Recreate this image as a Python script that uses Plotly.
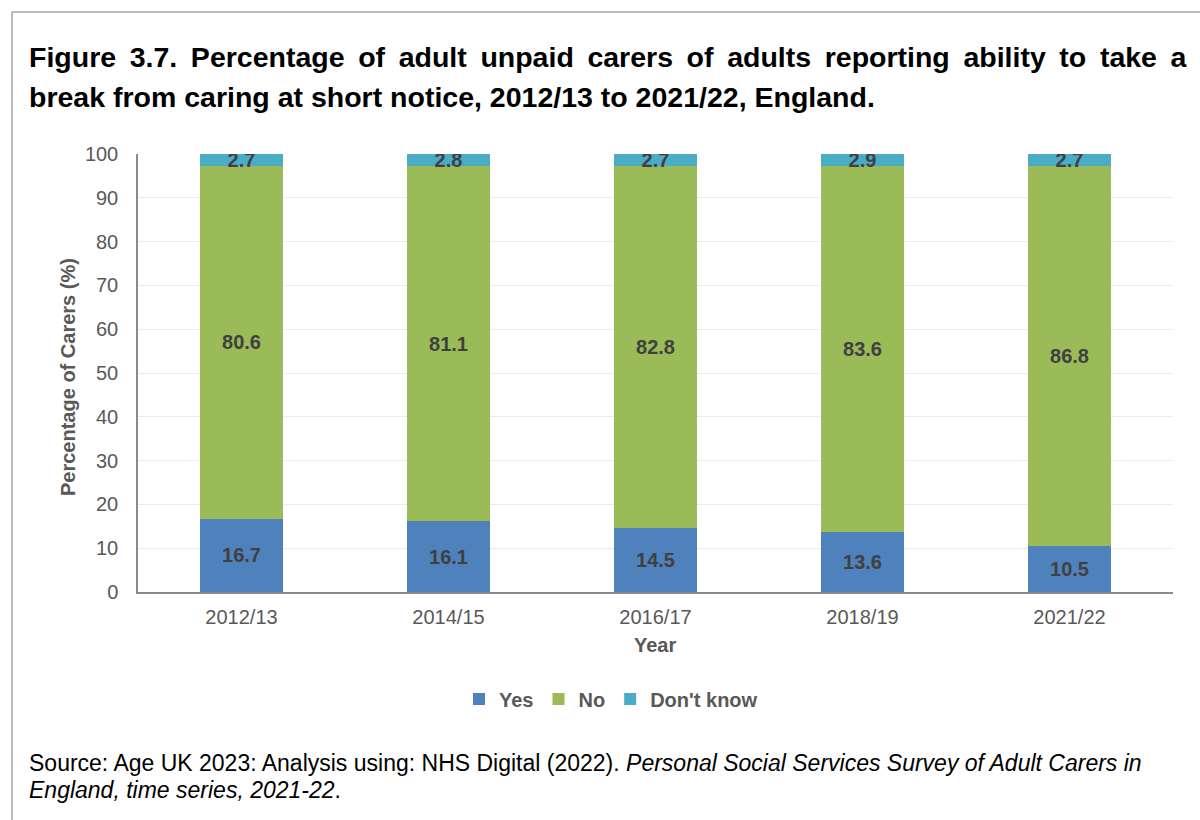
import plotly.graph_objects as go

years = ["2012/13", "2014/15", "2016/17", "2018/19", "2021/22"]
yes_vals = [16.7, 16.1, 14.5, 13.6, 10.5]
no_vals = [80.6, 81.1, 82.8, 83.6, 86.8]
dk_vals = [2.7, 2.8, 2.7, 2.9, 2.7]
y_ticks = [0, 10, 20, 30, 40, 50, 60, 70, 80, 90, 100]

FONT = "Liberation Sans, Arial, sans-serif"
LABEL_COL = "#404040"
TICK_COL = "#595959"

# plot area in pixels
L, R, T, B = 138, 27, 154, 228
W, H = 1200, 820
PW, PH = W - L - R, H - T - B

def px(x):
    return (x - L) / PW

def py(y):
    return (H - B - y) / PH

fig = go.Figure()
series = [("Yes", yes_vals, "#4F81BD"), ("No", no_vals, "#9BBB59"), ("Don't know", dk_vals, "#4BACC6")]
for name, vals, col in series:
    fig.add_trace(go.Bar(
        x=years, y=vals, name=name, marker=dict(color=col, line=dict(width=0)),
        text=[f"{v:.1f}" for v in vals], textposition="inside", insidetextanchor="middle",
        constraintext="none", textangle=0,
        textfont=dict(family=FONT, size=20, color=LABEL_COL, weight="bold"),
    ))

fig.update_layout(
    barmode="stack", bargap=0.6,
    width=W, height=H,
    margin=dict(l=L, r=R, t=T, b=B, autoexpand=False),
    paper_bgcolor="white", plot_bgcolor="white",
    font=dict(family=FONT, color=TICK_COL, size=20),
    showlegend=True,
    legend=dict(orientation="h", x=px(611), xanchor="center", y=py(699), yanchor="middle",
                font=dict(family=FONT, size=20, color=TICK_COL, weight="bold"),
                traceorder="normal", itemwidth=30),
    xaxis=dict(showline=True, linecolor="#8C8C8C", linewidth=1.5, showgrid=False,
               tickfont=dict(size=20, color=TICK_COL), ticks="", ticklabelstandoff=6),
    yaxis=dict(range=[0, 100], tickvals=y_ticks, showline=True, linecolor="#8C8C8C", linewidth=1.5,
               showgrid=True, gridcolor="#EBEBEB", gridwidth=1, zeroline=False,
               tickfont=dict(size=20, color=TICK_COL), ticks="", ticklabelstandoff=14),
)

title1 = "Figure 3.7. Percentage of adult unpaid carers of adults reporting ability to take a"
title1 = title1.replace(" ", " &#8201;")
annotations = [
    dict(text="<b>" + title1 + "</b>", x=px(27), y=py(57), size=28.5),
    dict(text="<b>break from caring at short notice, 2012/13 to 2021/22, England.</b>",
         x=px(27), y=py(97), size=28.5),
    dict(text="Source: Age UK 2023: Analysis using: NHS Digital (2022). <i>Personal Social Services Survey of Adult Carers in</i>",
         x=px(27), y=py(763), size=23),
    dict(text="<i>England, time series, 2021-22</i>.",
         x=px(27), y=py(790), size=23),
]
for a in annotations:
    fig.add_annotation(xref="paper", yref="paper", xanchor="left", yanchor="middle",
                       showarrow=False, x=a["x"], y=a["y"], text=a["text"],
                       font=dict(family=FONT, size=a["size"], color="black"))

fig.add_annotation(xref="paper", yref="paper", x=px(68), y=py(377), textangle=-90,
                   text="<b>Percentage of Carers (%)</b>", showarrow=False,
                   font=dict(family=FONT, size=20, color=TICK_COL), xanchor="center", yanchor="middle")
fig.add_annotation(xref="paper", yref="paper", x=px(655), y=py(645),
                   text="<b>Year</b>", showarrow=False,
                   font=dict(family=FONT, size=20, color=TICK_COL), xanchor="center", yanchor="middle")

fig.add_shape(type="rect", xref="paper", yref="paper",
              x0=px(12), x1=px(1215), y0=py(835), y1=py(12),
              line=dict(color="#A6A6A6", width=1.5), fillcolor="rgba(0,0,0,0)", layer="below")

fig.write_html("out.html")
